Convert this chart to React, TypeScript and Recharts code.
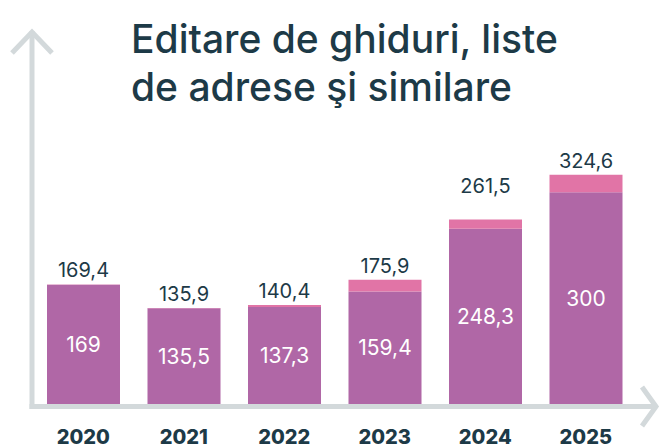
import { BarChart, Bar, XAxis, YAxis, LabelList } from "recharts";

const years = ["2020", "2021", "2022", "2023", "2024", "2025"];
const baseValues = [169, 135.5, 137.3, 159.4, 248.3, 300];
const totalValues = [169.4, 135.9, 140.4, 175.9, 261.5, 324.6];

const INK = "#1d3a47";
const PURPLE = "#b067a6";
const PINK = "#e174a6";
const AXIS = "#d3d9db";

const data = years.map((year, i) => ({
  year,
  base: baseValues[i],
  extra: Math.round((totalValues[i] - baseValues[i]) * 10) / 10,
  total: totalValues[i],
}));

const fmt = (v: unknown) => String(v).replace(".", ",");

// the 2024 total sits higher above its bar in the original
const extraLift: Record<number, number> = { 4: 19 };

function TotalLabel(props: any) {
  const { x, y, width, value, index } = props;
  const lift = extraLift[index] ?? 0;
  return (
    <text
      x={x + width / 2}
      y={y - 7 - lift}
      textAnchor="middle"
      fill={INK}
      fontSize={20}
      fontFamily="Inter, sans-serif"
    >
      {fmt(value)}
    </text>
  );
}

export default function App() {
  return (
    <div
      style={{
        position: "absolute",
        left: 0,
        top: 0,
        width: 660,
        height: 448,
        background: "#fff",
        fontFamily: "Inter, sans-serif",
        overflow: "hidden",
      }}
    >
      {/* axis arrows */}
      <svg width={660} height={448} style={{ position: "absolute", left: 0, top: 0 }}>
        <g stroke={AXIS} strokeWidth={5} fill="none">
          <line x1={32} y1={31} x2={32} y2={409} />
          <line x1={29.5} y1={406.5} x2={656} y2={406.5} />
          <polyline points="12,53 32,32 52,53" />
          <polyline points="642,387 656,406.5 642,426" />
        </g>
      </svg>
      <div
        style={{
          position: "absolute",
          left: 131,
          top: 15,
          fontSize: 39,
          lineHeight: "48px",
          fontWeight: 500,
          color: INK,
          whiteSpace: "pre",
        }}
      >
        {"Editare de ghiduri, liste\nde adrese şi similare"}
      </div>
      <div style={{ position: "absolute", left: 0, top: 0 }}>
        <BarChart
          width={660}
          height={448}
          data={data}
          margin={{ top: 164, right: 24, bottom: 0, left: 33 }}
        >
          <XAxis
            dataKey="year"
            axisLine={false}
            tickLine={false}
            height={44}
            tickMargin={20}
            tick={{ fill: INK, fontSize: 20, fontWeight: 800, fontFamily: "Inter, sans-serif" }}
          />
          <YAxis hide domain={[0, 340]} />
          <Bar dataKey="base" stackId="a" fill={PURPLE} barSize={73} isAnimationActive={false}>
            <LabelList
              dataKey="base"
              position="center"
              formatter={fmt}
              fill="#fff"
              fontSize={21}
              fontFamily="Inter, sans-serif"
            />
          </Bar>
          <Bar dataKey="extra" stackId="a" fill={PINK} barSize={73} isAnimationActive={false}>
            <LabelList dataKey="total" content={TotalLabel} />
          </Bar>
        </BarChart>
      </div>
    </div>
  );
}
